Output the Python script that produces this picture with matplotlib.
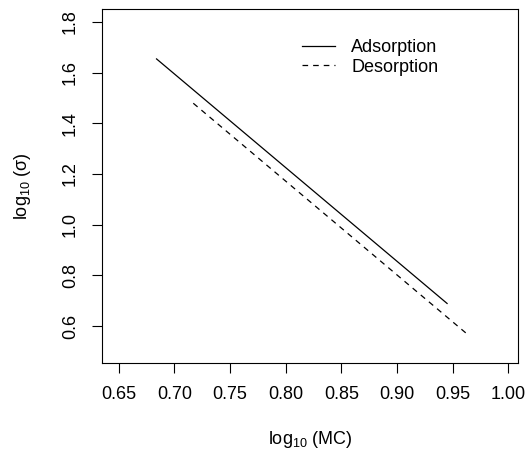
import matplotlib
matplotlib.use("Agg")
import matplotlib.pyplot as plt

# data (straight fitted lines, endpoints)
ads_x = [0.684, 0.945]
ads_y = [1.654, 0.689]
des_x = [0.717, 0.962]
des_y = [1.479, 0.572]

x_ticks = [0.65, 0.70, 0.75, 0.80, 0.85, 0.90, 0.95, 1.00]
y_ticks = [0.6, 0.8, 1.0, 1.2, 1.4, 1.6, 1.8]

plt.rcParams['font.family'] = ['Liberation Sans', 'DejaVu Sans']
plt.rcParams['mathtext.fontset'] = 'custom'
plt.rcParams['mathtext.rm'] = 'Liberation Sans'
plt.rcParams['mathtext.default'] = 'regular'

W, H = 527, 451
fig = plt.figure(figsize=(W / 100, H / 100), dpi=100)
ax = fig.add_axes([102 / W, (H - 363) / H, 416 / W, 354 / H])

ax.plot(ads_x, ads_y, color='black', lw=0.9, label='Adsorption')
ax.plot(des_x, des_y, color='black', lw=0.9, linestyle=(0, (4.5, 4)), label='Desorption')

ax.set_xlim(0.635, 1.0087)
ax.set_ylim(0.454, 1.851)
ax.set_xticks(x_ticks)
ax.set_xticklabels([f"{v:.2f}" for v in x_ticks])
ax.set_yticks(y_ticks)
ax.set_yticklabels([f"{v:.1f}" for v in y_ticks], rotation=90, va='center')
ax.tick_params(labelsize=13, length=7.5, width=0.8, pad=9)
for s in ax.spines.values():
    s.set_linewidth(0.8)

ax.set_xlabel(r'log$_{10}$ (MC)', fontsize=13, labelpad=19)
ax.set_ylabel(r'log$_{10}$ ($\sigma$)', fontsize=13, labelpad=21)

ax.legend(loc='upper left', bbox_to_anchor=(0.48, 0.915), frameon=False,
          fontsize=13, handlelength=1.85, handletextpad=0.9,
          borderpad=0, borderaxespad=0, labelspacing=0.15)

fig.savefig("out.png", dpi=100)
